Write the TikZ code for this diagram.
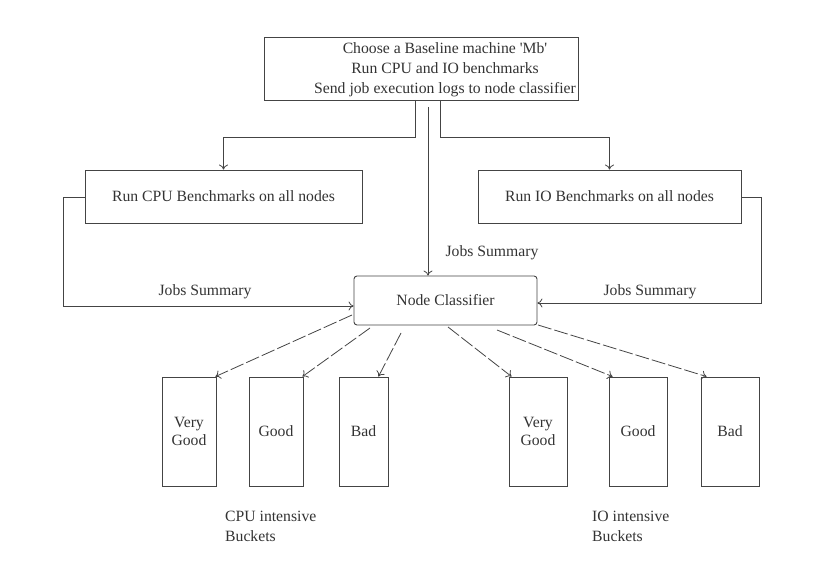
\documentclass[tikz,border=0pt]{standalone}
\usepackage{fontspec}
\setmainfont{Liberation Serif}
\usetikzlibrary{arrows.meta}
\definecolor{ink}{HTML}{444444}
\definecolor{txt}{HTML}{333333}
\tikzset{
  box/.style={draw=ink, line width=0.9pt, rectangle, inner sep=0pt},
  bucket/.style={box, minimum height=109pt, align=center, text=txt},
  lbl/.style={text=txt, inner sep=0pt},
  conn/.style={draw=ink, line width=0.8pt, -{To[length=5pt,width=9pt]}},
  dconn/.style={conn, dash pattern=on 14pt off 3pt},
}
\begin{document}
\begin{tikzpicture}[x=1pt,y=-1pt, font=\fontsize{15.7}{20}\selectfont]
\useasboundingbox (0,0) rectangle (840,577);
% boxes
\node[box, minimum width=314pt, minimum height=63pt] (top) at (421,68.5) {};
\node[lbl, align=center] (toptext) at (445,70) {Choose a Baseline machine \textquotesingle Mb\textquotesingle\\Run CPU and IO benchmarks\\Send job execution logs to node classifier};
\node[box, minimum width=277pt, minimum height=53pt, text=txt] (cpu) at (223.5,196.5) {Run CPU Benchmarks on all nodes};
\node[box, minimum width=263pt, minimum height=53pt, text=txt] (io) at (609.5,196.5) {Run IO Benchmarks on all nodes};
\node[box, rounded corners=3pt, minimum width=183pt, minimum height=49pt, text=txt] (nc) at (445.5,300.5) {Node Classifier};
% buckets
\node[bucket, minimum width=54pt] (b1) at (189,431.5) {Very\\[-2pt]Good};
\node[bucket, minimum width=54pt] (b2) at (276,431.5) {Good};
\node[bucket, minimum width=49pt] (b3) at (363.5,431.5) {Bad};
\node[bucket, minimum width=58pt] (b4) at (538,431.5) {Very\\[-2pt]Good};
\node[bucket, minimum width=58pt] (b5) at (638,431.5) {Good};
\node[bucket, minimum width=58pt] (b6) at (730,431.5) {Bad};
% coordinates
\coordinate (tl) at (415,100);
\coordinate (tlb) at (415,137);
\coordinate (tc) at (428,107);
\coordinate (tr) at (440,100);
\coordinate (trb) at (440,137);
\coordinate (cl) at (63,197);
\coordinate (ir) at (761,197);
\coordinate (s1) at (352,315);
\coordinate (s2) at (370,328);
\coordinate (s3) at (401,333);
\coordinate (s4) at (448,327);
\coordinate (s5) at (497,330);
\coordinate (s6) at (538,325);
% top connectors
\draw[conn] (tl) -- (tlb) -| (cpu.north);
\draw[conn] (tr) -- (trb) -| (io.north);
\draw[conn] (tc) -- (tc |- nc.north);
% loops
\draw[conn] (cpu.west |- cl) -- (cl) |- ([yshift=-5.5pt]nc.west);
\draw[conn] (io.east |- ir) -- (ir) |- ([yshift=-2.5pt]nc.east);
% labels
\node[lbl] (js1) at (205,292) {Jobs Summary};
\node[lbl] (js2) at (492,253) {Jobs Summary};
\node[lbl] (js3) at (650,292) {Jobs Summary};
\node[lbl, align=left, anchor=north west] (cpub) at (225,511) {CPU intensive\\Buckets};
\node[lbl, align=left, anchor=north west] (iob) at (592,511) {IO intensive\\Buckets};
% dashed arrows
\draw[dconn] (s1) -- ([xshift=-1pt]b1.north east);
\draw[dconn] (s2) -- ([xshift=-1pt]b2.north east);
\draw[dconn] (s3) -- ([xshift=-10pt]b3.north east);
\draw[dconn] (s4) -- ([xshift=3pt]b4.north west);
\draw[dconn] (s5) -- ([xshift=4pt]b5.north west);
\draw[dconn] (s6) -- ([xshift=6pt]b6.north west);
\end{tikzpicture}
\end{document}
